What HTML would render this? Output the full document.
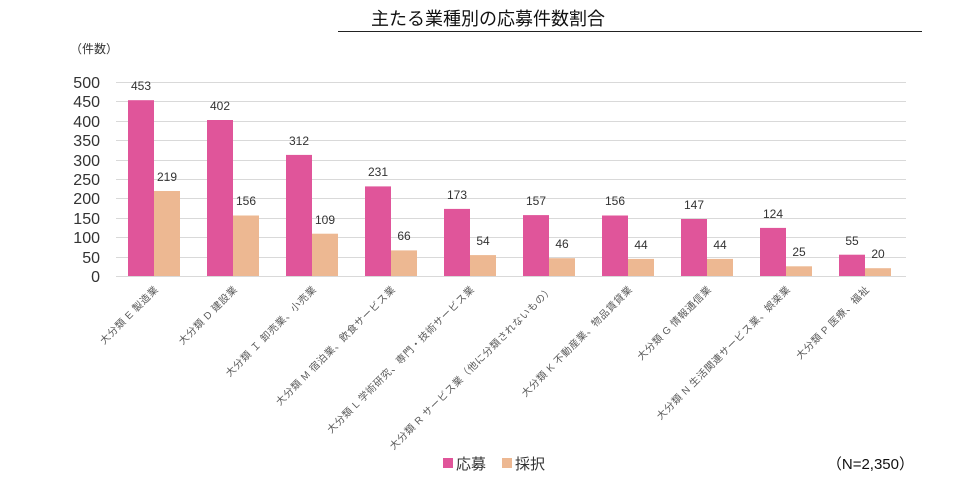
<!DOCTYPE html>
<html><head><meta charset="utf-8"><style>
body{margin:0;background:#fff;}
svg{display:block;font-family:"Liberation Sans","Noto Sans CJK JP",sans-serif;}
</style></head><body>
<svg width="956" height="486" viewBox="0 0 956 486" xmlns="http://www.w3.org/2000/svg">
<text x="488" y="25" text-anchor="middle" font-size="18" fill="#111">主たる業種別の応募件数割合</text>
<line x1="338" y1="31.5" x2="922" y2="31.5" stroke="#222" stroke-width="1"/>
<text x="70" y="53" font-size="12" fill="#333">（件数）</text>
<g stroke="#d9d9d9" stroke-width="1">
<line x1="116" x2="906" y1="82.5" y2="82.5"/><line x1="116" x2="906" y1="101.5" y2="101.5"/>
<line x1="116" x2="906" y1="121.5" y2="121.5"/><line x1="116" x2="906" y1="140.5" y2="140.5"/>
<line x1="116" x2="906" y1="160.5" y2="160.5"/><line x1="116" x2="906" y1="179.5" y2="179.5"/>
<line x1="116" x2="906" y1="198.5" y2="198.5"/><line x1="116" x2="906" y1="218.5" y2="218.5"/>
<line x1="116" x2="906" y1="237.5" y2="237.5"/><line x1="116" x2="906" y1="257.5" y2="257.5"/>
<line x1="116" x2="906" y1="276.5" y2="276.5"/>
</g>
<g font-size="16" fill="#333" text-anchor="end">
<text x="100" y="88">500</text><text x="100" y="107">450</text><text x="100" y="127">400</text>
<text x="100" y="146">350</text><text x="100" y="166">300</text><text x="100" y="185">250</text>
<text x="100" y="204">200</text><text x="100" y="224">150</text><text x="100" y="243">100</text>
<text x="100" y="263">50</text><text x="100" y="282">0</text>
</g>
<g fill="#E0559A">
<rect x="128" y="100.2" width="26" height="175.8"/>
<rect x="207" y="120.0" width="26" height="156.0"/>
<rect x="286" y="154.9" width="26" height="121.1"/>
<rect x="365" y="186.4" width="26" height="89.6"/>
<rect x="444" y="208.9" width="26" height="67.1"/>
<rect x="523" y="215.1" width="26" height="60.9"/>
<rect x="602" y="215.5" width="26" height="60.5"/>
<rect x="681" y="219.0" width="26" height="57.0"/>
<rect x="760" y="227.9" width="26" height="48.1"/>
<rect x="839" y="254.7" width="26" height="21.3"/>
</g>
<g fill="#EDB892">
<rect x="154" y="191.0" width="26" height="85.0"/>
<rect x="233" y="215.5" width="26" height="60.5"/>
<rect x="312" y="233.7" width="26" height="42.3"/>
<rect x="391" y="250.4" width="26" height="25.6"/>
<rect x="470" y="255.1" width="26" height="20.9"/>
<rect x="549" y="258.2" width="26" height="17.8"/>
<rect x="628" y="258.9" width="26" height="17.1"/>
<rect x="707" y="258.9" width="26" height="17.1"/>
<rect x="786" y="266.3" width="26" height="9.7"/>
<rect x="865" y="268.2" width="26" height="7.8"/>
</g>
<g font-size="12" fill="#333" text-anchor="middle">
<text x="141" y="90">453</text><text x="167" y="181">219</text>
<text x="220" y="110">402</text><text x="246" y="205">156</text>
<text x="299" y="145">312</text><text x="325" y="224">109</text>
<text x="378" y="176">231</text><text x="404" y="240">66</text>
<text x="457" y="199">173</text><text x="483" y="245">54</text>
<text x="536" y="205">157</text><text x="562" y="248">46</text>
<text x="615" y="205">156</text><text x="641" y="249">44</text>
<text x="694" y="209">147</text><text x="720" y="249">44</text>
<text x="773" y="218">124</text><text x="799" y="256">25</text>
<text x="852" y="245">55</text><text x="878" y="258">20</text>
</g>
<g font-size="10" fill="#595959" text-anchor="end" letter-spacing="0.6">
<text transform="translate(159,290) rotate(-45)">大分類 E 製造業</text>
<text transform="translate(238,290) rotate(-45)">大分類 D 建設業</text>
<text transform="translate(317,290) rotate(-45)">大分類 Ｉ 卸売業、小売業</text>
<text transform="translate(396,290) rotate(-45)">大分類 M 宿泊業、飲食サービス業</text>
<text transform="translate(475,290) rotate(-45)">大分類 L 学術研究、専門・技術サービス業</text>
<text transform="translate(554,290) rotate(-45)">大分類 R サービス業（他に分類されないもの）</text>
<text transform="translate(633,290) rotate(-45)">大分類 K 不動産業、物品賃貸業</text>
<text transform="translate(712,290) rotate(-45)">大分類 G 情報通信業</text>
<text transform="translate(791,290) rotate(-45)">大分類 N 生活関連サービス業、娯楽業</text>
<text transform="translate(870,290) rotate(-45)">大分類 P 医療、福祉</text>
</g>
<rect x="443" y="458" width="10" height="10" fill="#E0559A"/>
<text x="456" y="469" font-size="15" fill="#333">応募</text>
<rect x="502" y="458" width="10" height="10" fill="#EDB892"/>
<text x="515" y="469" font-size="15" fill="#333">採択</text>
<text x="914" y="469" font-size="15" fill="#111" text-anchor="end">（N=2,350）</text>
</svg>
</body></html>
